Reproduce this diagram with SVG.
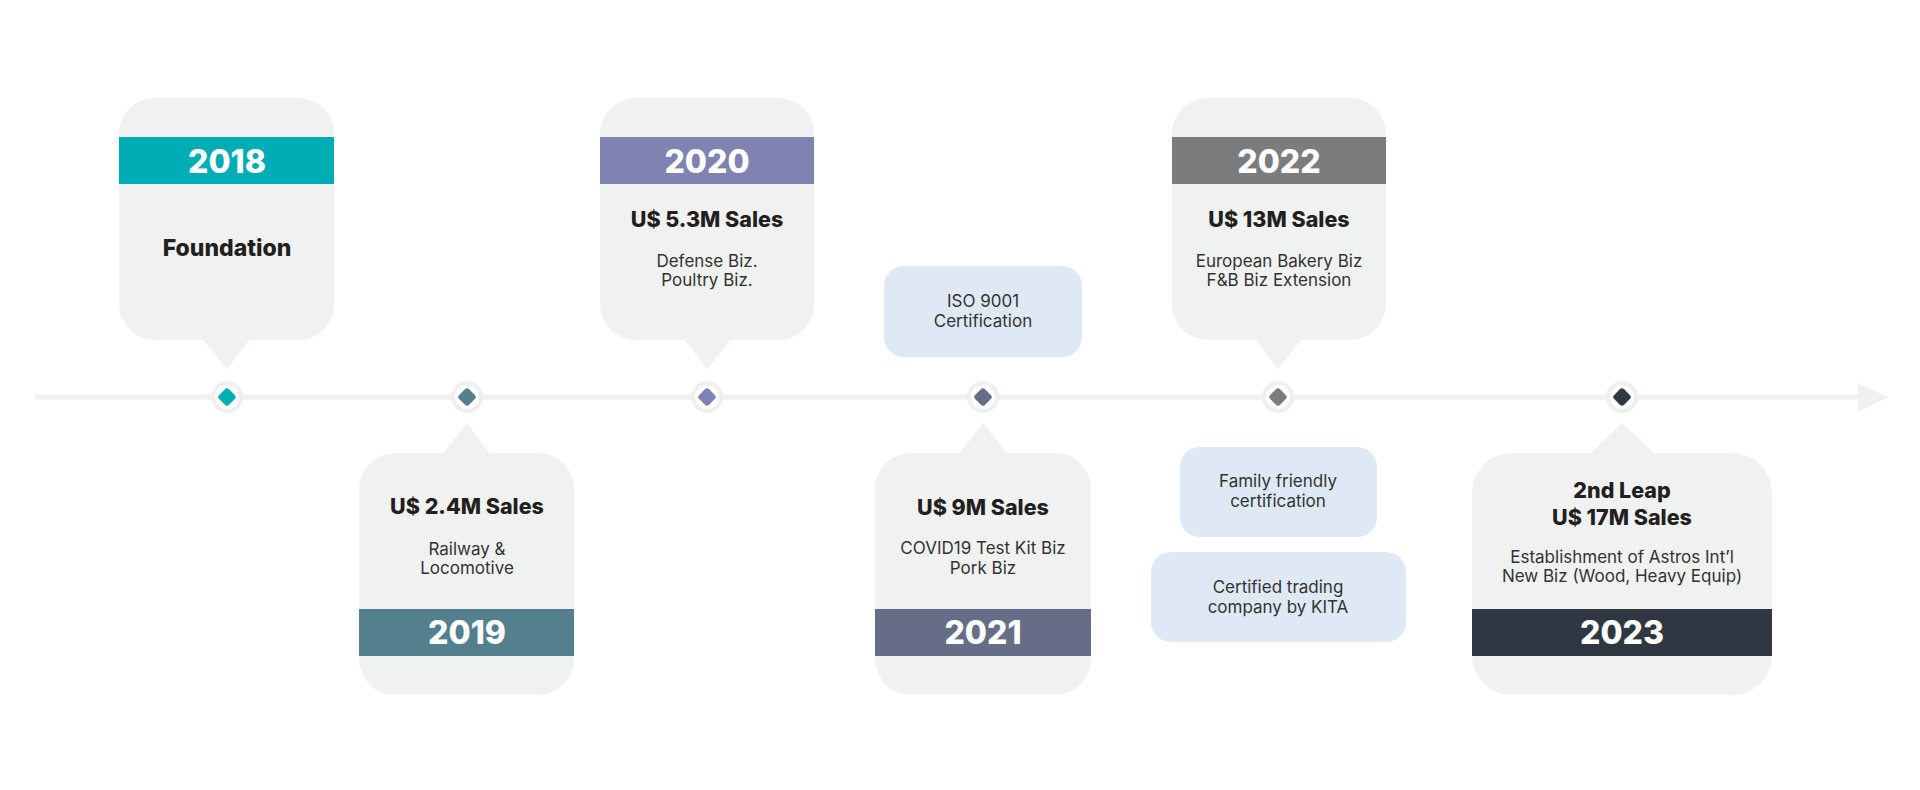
<svg xmlns="http://www.w3.org/2000/svg" width="1920" height="790" viewBox="0 0 1920 790">
<style>
.bub{fill:#f0f1f1}
.cert{fill:#dee9f5}
.yr{font-family:Inter,"Liberation Sans",sans-serif;font-weight:800;font-size:32px;fill:#ffffff;text-anchor:middle}
.hd{font-family:Inter,"Liberation Sans",sans-serif;font-weight:800;font-size:21.5px;fill:#231f20;text-anchor:middle}
.tx{font-family:Inter,"Liberation Sans",sans-serif;font-weight:400;font-size:17px;fill:#333333;text-anchor:middle}
.ring{fill:#ffffff;stroke:#eef0f0;stroke-width:4}
</style>
<rect x="0" y="0" width="1920" height="790" fill="#ffffff"/>
<g id="connectors">
  <line x1="35" y1="397" x2="1860" y2="397" stroke="#eff0f0" stroke-width="5"/>
  <polygon points="1858,383 1888,397 1858,412" fill="#eff0f0"/>
</g>
<g id="node-2018">
  <rect class="bub" x="119" y="98" width="215" height="242" rx="36"/>
  <polygon class="bub" points="203,339 250,339 227,369"/>
  <rect x="119" y="137" width="215" height="47" fill="#00adb5"/>
  <text class="yr" x="227" y="173">2018</text>
  <text class="hd" x="227" y="256" style="font-size:23px">Foundation</text>
  <circle class="ring" cx="227" cy="397" r="14"/>
  <rect x="220" y="390" width="14" height="14" rx="3" fill="#00adb5" transform="rotate(45 227 397)"/>
</g>
<g id="node-2019">
  <rect class="bub" x="359" y="453" width="215" height="242" rx="36"/>
  <polygon class="bub" points="443,454 490,454 467,423"/>
  <rect x="359" y="609" width="215" height="47" fill="#547f8c"/>
  <text class="hd" x="467" y="514">U$ 2.4M Sales</text>
  <text class="tx" x="467" y="555">Railway &amp;</text>
  <text class="tx" x="467" y="574">Locomotive</text>
  <text class="yr" x="467" y="644">2019</text>
  <circle class="ring" cx="467" cy="397" r="14"/>
  <rect x="460" y="390" width="14" height="14" rx="3" fill="#547f8c" transform="rotate(45 467 397)"/>
</g>
<g id="node-2020">
  <rect class="bub" x="600" y="98" width="214" height="242" rx="36"/>
  <polygon class="bub" points="684,339 731,339 707,369"/>
  <rect x="600" y="137" width="214" height="47" fill="#7f83b2"/>
  <text class="yr" x="707" y="173">2020</text>
  <text class="hd" x="707" y="227">U$ 5.3M Sales</text>
  <text class="tx" x="707" y="267">Defense Biz.</text>
  <text class="tx" x="707" y="286">Poultry Biz.</text>
  <circle class="ring" cx="707" cy="397" r="14"/>
  <rect x="700" y="390" width="14" height="14" rx="3" fill="#7f83b2" transform="rotate(45 707 397)"/>
</g>
<g id="node-iso">
  <rect class="cert" x="884" y="266" width="198" height="91" rx="20"/>
  <text class="tx" x="983" y="307">ISO 9001</text>
  <text class="tx" x="983" y="327">Certification</text>
</g>
<g id="node-2021">
  <rect class="bub" x="875" y="453" width="216" height="242" rx="36"/>
  <polygon class="bub" points="959,454 1007,454 983,423"/>
  <rect x="875" y="609" width="216" height="47" fill="#666d87"/>
  <text class="hd" x="983" y="515">U$ 9M Sales</text>
  <text class="tx" x="983" y="554">COVID19 Test Kit Biz</text>
  <text class="tx" x="983" y="574">Pork Biz</text>
  <text class="yr" x="983" y="644">2021</text>
  <circle class="ring" cx="983" cy="397" r="14"/>
  <rect x="976" y="390" width="14" height="14" rx="3" fill="#666d87" transform="rotate(45 983 397)"/>
</g>
<g id="node-2022">
  <rect class="bub" x="1172" y="98" width="214" height="242" rx="36"/>
  <polygon class="bub" points="1255,339 1302,339 1278,369"/>
  <rect x="1172" y="137" width="214" height="47" fill="#7b7c7e"/>
  <text class="yr" x="1279" y="173">2022</text>
  <text class="hd" x="1279" y="227">U$ 13M Sales</text>
  <text class="tx" x="1279" y="267">European Bakery Biz</text>
  <text class="tx" x="1279" y="286">F&amp;B Biz Extension</text>
  <circle class="ring" cx="1278" cy="397" r="14"/>
  <rect x="1271" y="390" width="14" height="14" rx="3" fill="#7b7c7e" transform="rotate(45 1278 397)"/>
</g>
<g id="node-family">
  <rect class="cert" x="1180" y="447" width="197" height="90" rx="20"/>
  <text class="tx" x="1278" y="487">Family friendly</text>
  <text class="tx" x="1278" y="507">certification</text>
</g>
<g id="node-kita">
  <rect class="cert" x="1151" y="552" width="255" height="90" rx="20"/>
  <text class="tx" x="1278" y="593">Certified trading</text>
  <text class="tx" x="1278" y="613">company by KITA</text>
</g>
<g id="node-2023">
  <rect class="bub" x="1472" y="453" width="300" height="242" rx="40"/>
  <polygon class="bub" points="1590,454 1655,454 1622,423"/>
  <rect x="1472" y="609" width="300" height="47" fill="#2f3742"/>
  <text class="hd" x="1622" y="498">2nd Leap</text>
  <text class="hd" x="1622" y="525">U$ 17M Sales</text>
  <text class="tx" x="1622" y="563">Establishment of Astros Int’l</text>
  <text class="tx" x="1622" y="582">New Biz (Wood, Heavy Equip)</text>
  <text class="yr" x="1622" y="644">2023</text>
  <circle class="ring" cx="1622" cy="397" r="14"/>
  <rect x="1615" y="390" width="14" height="14" rx="3" fill="#2f3742" transform="rotate(45 1622 397)"/>
</g>
</svg>
